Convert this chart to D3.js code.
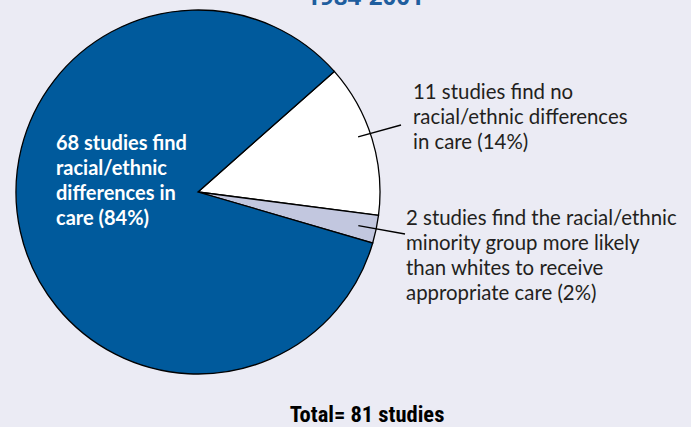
<!DOCTYPE html>
<html>
<head>
<meta charset="utf-8">
<script src="https://cdn.jsdelivr.net/npm/d3@7/dist/d3.min.js"></script>
<style>
  html, body { margin: 0; padding: 0; background: #ebebf4; }
  svg { display: block; }
</style>
</head>
<body>
<svg id="chart" width="691" height="427"></svg>
<script>
// Study outcomes, in drawing order (clockwise from the white slice)
const categories = ["no_difference", "minority_favoured", "difference"];
const studyCounts = [11, 2, 68];
const sliceColors = ["#ffffff", "#c2c7df", "#005a9c"];
const labelLines = [
  ["11 studies find no", "racial/ethnic differences", "in care (14%)"],
  ["2 studies find the racial/ethnic", "minority group more likely", "than whites to receive", "appropriate care (2%)"],
  ["68 studies find", "racial/ethnic", "differences in", "care (84%)"]
];
const titleText = "1984-2001";
const totalText = "Total= 81 studies";

const svg = d3.select("#chart");
const W = 691, H = 427;
const cx = 198, cy = 192, R = 182;

svg.append("rect").attr("width", W).attr("height", H).attr("fill", "#ebebf4");

// Title (partly above the top edge)
svg.append("text")
  .attr("x", 365).attr("y", 5)
  .attr("text-anchor", "middle")
  .attr("font-family", "'Open Sans', 'DejaVu Sans', sans-serif")
  .attr("font-weight", "bold")
  .attr("font-size", 24)
  .attr("fill", "#1f5e9e")
  .text(titleText);

const start = 48.5 * Math.PI / 180;
const pie = d3.pie().sort(null).value(d => d)
  .startAngle(start).endAngle(start + 2 * Math.PI);
const arcs = pie(studyCounts);
const arc = d3.arc().innerRadius(0).outerRadius(R);

const g = svg.append("g").attr("transform", `translate(${cx},${cy})`);
g.selectAll("path.slice")
  .data(arcs)
  .join("path")
  .attr("class", "slice")
  .attr("d", arc)
  .attr("fill", (d, i) => sliceColors[i])
  .attr("stroke", "#000")
  .attr("stroke-width", 1.3)
  .attr("stroke-linejoin", "miter");

// Leader lines for the two small slices
const leaderEnds = [[401, 125], [405, 234]];
[0, 1].forEach(i => {
  const a = arcs[i];
  const mid = (a.startAngle + a.endAngle) / 2;
  const r0 = i === 0 ? 0.92 * R : 0.9 * R;
  const x0 = cx + r0 * Math.sin(mid);
  const y0 = cy - r0 * Math.cos(mid) - (i === 0 ? 6 : 0);
  svg.append("line")
    .attr("x1", x0).attr("y1", y0)
    .attr("x2", leaderEnds[i][0]).attr("y2", leaderEnds[i][1])
    .attr("stroke", "#000").attr("stroke-width", 1.3);
});

const labelFont = "'Lato', 'Open Sans', sans-serif";
// Outside labels
const outsidePos = [[413, 99], [406, 225]];
[0, 1].forEach(i => {
  const t = svg.append("text")
    .attr("font-family", labelFont)
    .attr("font-size", 20.4)
    .attr("fill", "#231f20");
  labelLines[i].forEach((line, k) => {
    t.append("tspan")
      .attr("x", outsidePos[i][0])
      .attr("y", outsidePos[i][1] + k * 25)
      .text(line);
  });
});

// Inside label of the large slice
const inner = svg.append("text")
  .attr("font-family", labelFont)
  .attr("font-weight", "bold")
  .attr("font-size", 20)
  .attr("fill", "#ffffff");
labelLines[2].forEach((line, k) => {
  inner.append("tspan")
    .attr("x", 56)
    .attr("y", 150 + k * 25)
    .text(line);
});

// Total
svg.append("text")
  .attr("x", 367).attr("y", 422)
  .attr("text-anchor", "middle")
  .attr("font-family", "'Liberation Sans Narrow', 'Roboto Condensed', 'Liberation Sans', sans-serif")
  .attr("font-weight", "bold")
  .attr("font-size", 22.5)
  .attr("fill", "#000")
  .text(totalText);
</script>
</body>
</html>
